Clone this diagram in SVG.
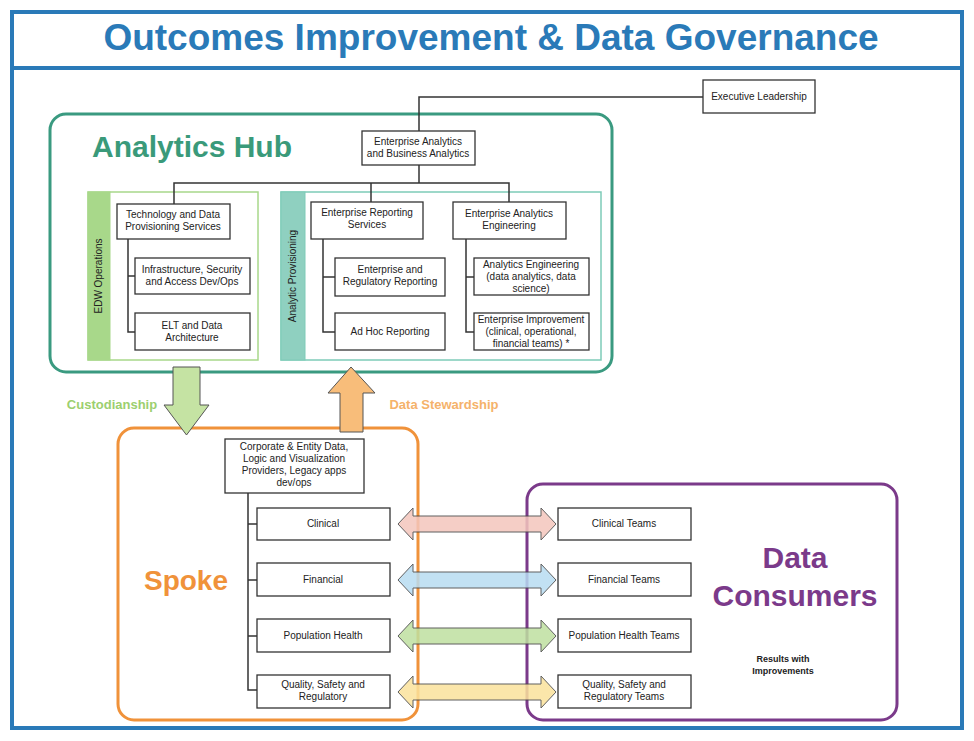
<svg xmlns="http://www.w3.org/2000/svg" width="974" height="741" viewBox="0 0 974 741">
<style>
.b{fill:#fff;stroke:#333;stroke-width:1.3}
.t{font-family:"Liberation Sans",Arial,sans-serif;font-size:10px;fill:#222;text-anchor:middle}
.ln{fill:none;stroke:#333;stroke-width:1.5}
.big{font-family:"Liberation Sans",Arial,sans-serif;font-weight:bold;text-anchor:middle}
.da{stroke:#444;stroke-width:1;opacity:0.85}
</style>
<rect x="0" y="0" width="974" height="741" fill="#fff"/>
<g id="frame">
<rect x="12" y="12" width="950" height="716" fill="none" stroke="#2a7ab8" stroke-width="4"/>
<line x1="12" y1="68" x2="962" y2="68" stroke="#2a7ab8" stroke-width="4"/>
<text x="491" y="50" class="big" font-size="37" fill="#2a7ab8">Outcomes Improvement &amp; Data Governance</text>
</g>
<g id="hub">
<rect x="50" y="114" width="562" height="258" rx="16" fill="none" stroke="#3a9a80" stroke-width="3"/>
<text x="192" y="157" class="big" font-size="30" fill="#3a9a7a">Analytics Hub</text>
</g>
<g id="edw">
<rect x="88" y="192" width="170" height="168" fill="none" stroke="#a8d88a" stroke-width="1.5"/>
<rect x="88" y="192" width="22" height="168" fill="#a8d88a" stroke="#a8d88a"/>
<text transform="translate(102,276) rotate(-90)" class="t" font-size="9.5">EDW Operations</text>
</g>
<g id="ap">
<rect x="281" y="192" width="320" height="168" fill="none" stroke="#7ecbb8" stroke-width="1.5"/>
<rect x="281" y="192" width="24" height="168" fill="#8fd0c0" stroke="#7ecbb8"/>
<text transform="translate(296,276) rotate(-90)" class="t" font-size="9.5">Analytic Provisioning</text>
</g>
<g id="spoke">
<rect x="118" y="428" width="300" height="292" rx="16" fill="none" stroke="#f0923a" stroke-width="3"/>
<text x="186" y="590" class="big" font-size="28" fill="#f0923a">Spoke</text>
</g>
<g id="consumers">
<rect x="527" y="484" width="370" height="236" rx="16" fill="none" stroke="#7b3a8a" stroke-width="3"/>
<text x="795" y="568" class="big" font-size="30" fill="#7b3a8a">Data</text>
<text x="795" y="606" class="big" font-size="30" fill="#7b3a8a">Consumers</text>
<text x="783" y="662" class="big" font-size="9" fill="#222">Results with</text>
<text x="783" y="674" class="big" font-size="9" fill="#222">Improvements</text>
</g>
<g id="connectors">
<polyline class="ln" points="703,97 419,97 419,131"/>
<polyline class="ln" points="419,165 419,183"/>
<polyline class="ln" points="174,204 174,183 509,183 509,204"/>
<line class="ln" x1="371" y1="183" x2="371" y2="204"/>
<polyline class="ln" points="128,239 128,332 135,332"/>
<line class="ln" x1="128" y1="276" x2="135" y2="276"/>
<polyline class="ln" points="323,239 323,332 335,332"/>
<line class="ln" x1="323" y1="277" x2="335" y2="277"/>
<polyline class="ln" points="466,239 466,332 474,332"/>
<line class="ln" x1="466" y1="277" x2="474" y2="277"/>
<polyline class="ln" points="248,493 248,690 257,690"/>
<line class="ln" x1="248" y1="524" x2="257" y2="524"/>
<line class="ln" x1="248" y1="580" x2="257" y2="580"/>
<line class="ln" x1="248" y1="636" x2="257" y2="636"/>
<path d="M173,367 H200 V405 H209 L186.5,435 L164,405 H173 Z" fill="#c5e3a3" stroke="#555" stroke-width="1"/>
<path d="M351,367 L375,393 H363 V432 H340 V393 H328 Z" fill="#f8bd7a" stroke="#555" stroke-width="1"/>
<text x="112" y="409" class="big" font-size="13" fill="#9ccf6e">Custodianship</text>
<text x="444" y="409" class="big" font-size="13" fill="#f5b26a">Data Stewardship</text>
<path class="da" fill="#f4c6bd" d="M398,524 L413,508 V516 H541 V508 L556,524 L541,540 V532 H413 V540 Z"/>
<path class="da" fill="#b8dcf2" d="M398,580 L413,564 V572 H541 V564 L556,580 L541,596 V588 H413 V596 Z"/>
<path class="da" fill="#bfe0a0" d="M398,636 L413,620 V628 H541 V620 L556,636 L541,652 V644 H413 V652 Z"/>
<path class="da" fill="#fbe29c" d="M398,692 L413,676 V684 H541 V676 L556,692 L541,708 V700 H413 V708 Z"/>
</g>
<g id="exec"><rect class="b" x="703" y="80" width="112" height="33"/><text class="t" x="759" y="100">Executive Leadership</text></g>
<g id="ea"><rect class="b" x="362" y="131" width="113" height="34"/><text class="t" x="418" y="145">Enterprise Analytics</text><text class="t" x="418" y="157">and Business Analytics</text></g>
<g id="tech"><rect class="b" x="117" y="204" width="113" height="35"/><text class="t" x="173" y="218">Technology and Data</text><text class="t" x="173" y="230">Provisioning Services</text></g>
<g id="infra"><rect class="b" x="135" y="258" width="115" height="36"/><text class="t" x="192" y="273">Infrastructure, Security</text><text class="t" x="192" y="285">and Access Dev/Ops</text></g>
<g id="elt"><rect class="b" x="135" y="313" width="115" height="37"/><text class="t" x="192" y="329">ELT and Data</text><text class="t" x="192" y="341">Architecture</text></g>
<g id="ers"><rect class="b" x="311" y="202" width="112" height="37"/><text class="t" x="367" y="216">Enterprise Reporting</text><text class="t" x="367" y="228">Services</text></g>
<g id="err"><rect class="b" x="335" y="258" width="110" height="38"/><text class="t" x="390" y="273">Enterprise and</text><text class="t" x="390" y="285">Regulatory Reporting</text></g>
<g id="adhoc"><rect class="b" x="335" y="313" width="110" height="37"/><text class="t" x="390" y="335">Ad Hoc Reporting</text></g>
<g id="eae"><rect class="b" x="453" y="202" width="113" height="37"/><text class="t" x="509" y="217">Enterprise Analytics</text><text class="t" x="509" y="229">Engineering</text></g>
<g id="ae"><rect class="b" x="474" y="258" width="115" height="37"/><text class="t" x="531" y="268">Analytics Engineering</text><text class="t" x="531" y="280">(data analytics, data</text><text class="t" x="531" y="292">science)</text></g>
<g id="ei"><rect class="b" x="474" y="313" width="115" height="37"/><text class="t" x="531" y="323">Enterprise Improvement</text><text class="t" x="531" y="335">(clinical, operational,</text><text class="t" x="531" y="347">financial teams) *</text></g>
<g id="corp"><rect class="b" x="225" y="439" width="139" height="54"/><text class="t" x="294" y="450">Corporate &amp; Entity Data,</text><text class="t" x="294" y="462">Logic and Visualization</text><text class="t" x="294" y="474">Providers, Legacy apps</text><text class="t" x="294" y="486">dev/ops</text></g>
<g id="clin"><rect class="b" x="257" y="508" width="133" height="32"/><text class="t" x="323" y="527">Clinical</text></g>
<g id="fin"><rect class="b" x="257" y="563" width="133" height="33"/><text class="t" x="323" y="583">Financial</text></g>
<g id="pop"><rect class="b" x="257" y="619" width="133" height="33"/><text class="t" x="323" y="639">Population Health</text></g>
<g id="qual"><rect class="b" x="257" y="675" width="133" height="33"/><text class="t" x="323" y="688">Quality, Safety and</text><text class="t" x="323" y="700">Regulatory</text></g>
<g id="clint"><rect class="b" x="558" y="508" width="133" height="32"/><text class="t" x="624" y="527">Clinical Teams</text></g>
<g id="fint"><rect class="b" x="558" y="563" width="133" height="33"/><text class="t" x="624" y="583">Financial Teams</text></g>
<g id="popt"><rect class="b" x="558" y="619" width="133" height="33"/><text class="t" x="624" y="639">Population Health Teams</text></g>
<g id="qualt"><rect class="b" x="558" y="675" width="133" height="33"/><text class="t" x="624" y="688">Quality, Safety and</text><text class="t" x="624" y="700">Regulatory Teams</text></g>
</svg>
